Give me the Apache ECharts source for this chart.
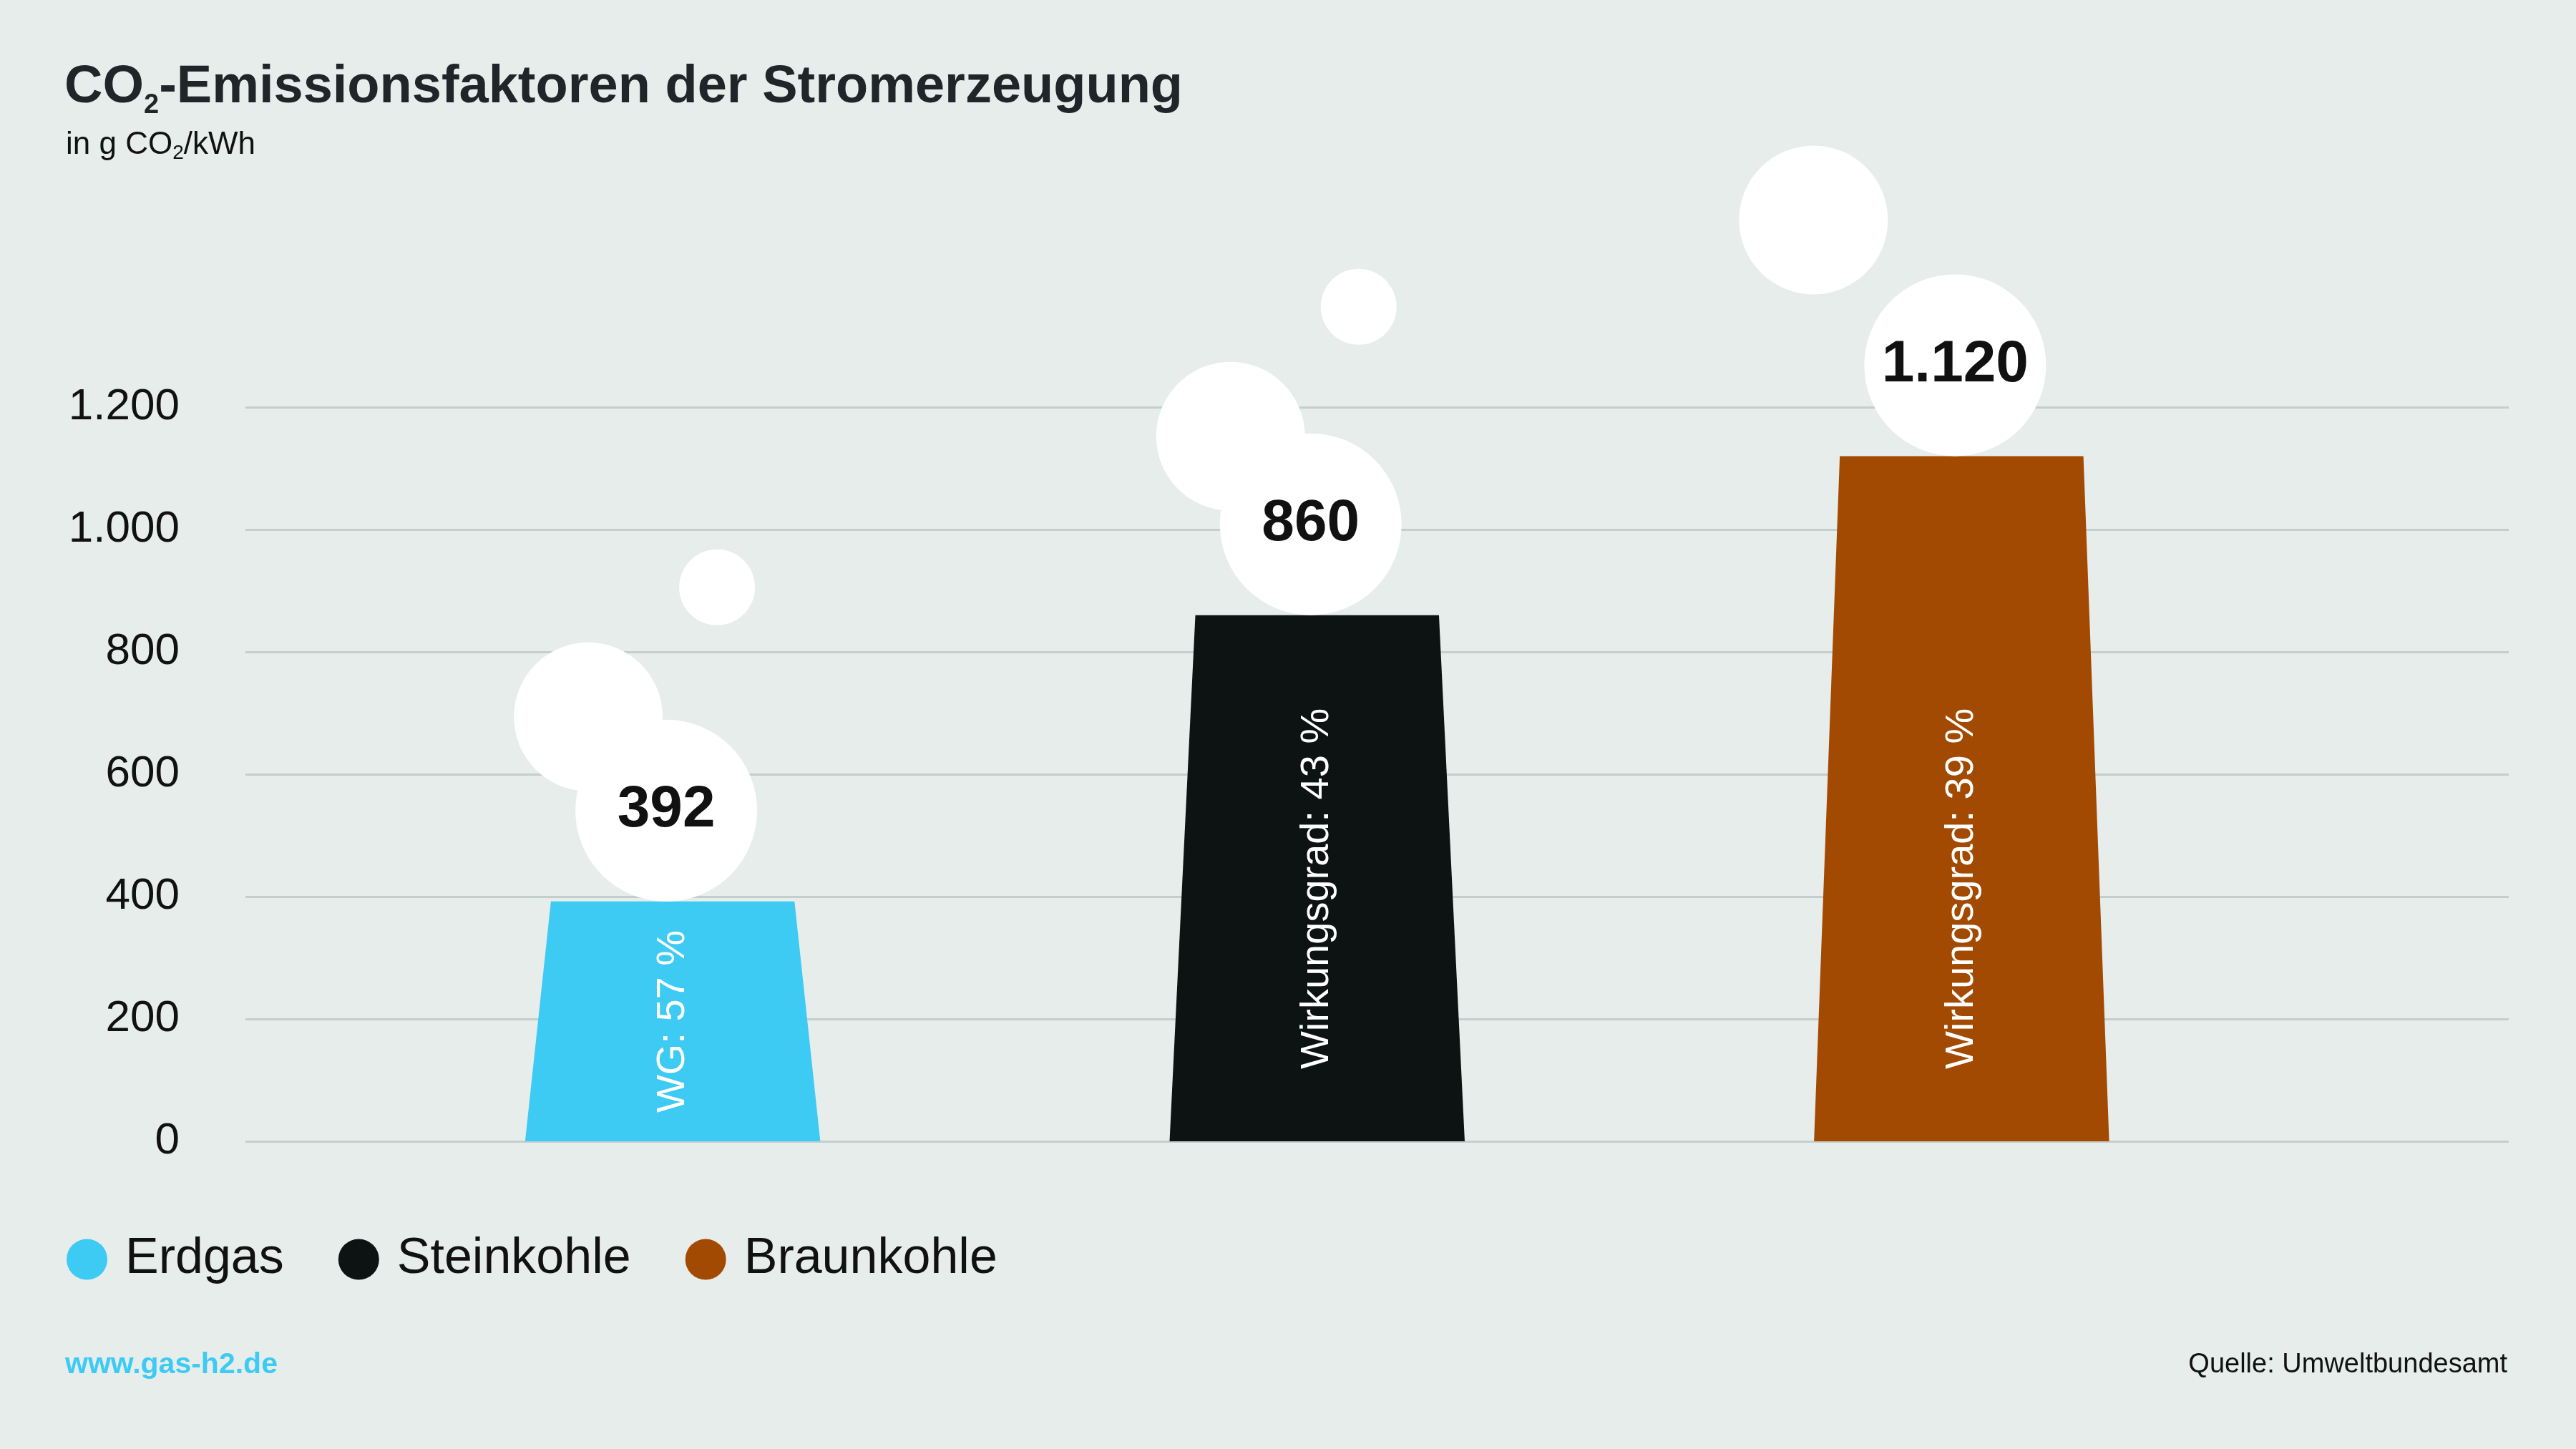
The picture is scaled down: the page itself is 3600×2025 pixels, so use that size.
<!DOCTYPE html>
<html>
<head>
<meta charset="utf-8">
<title>CO2-Emissionsfaktoren der Stromerzeugung</title>
<script src="https://cdn.jsdelivr.net/npm/echarts@6/dist/echarts.min.js"></script>
<style>
  html, body { margin: 0; padding: 0; background: #e7edeb; }
  #main { width: 3600px; height: 2025px; }
</style>
</head>
<body>
<div id="main"></div>
<script>
const categories = ['Erdgas', 'Steinkohle', 'Braunkohle'];
const emissions = [392, 860, 1120];
const efficiencyLabels = ['WG: 57 %', 'Wirkungsgrad: 43 %', 'Wirkungsgrad: 39 %'];
const yTicks = [0, 200, 400, 600, 800, 1000, 1200];
const colors = ['#3dcaf3', '#0d1213', '#a34a02'];

const FONT = '"Liberation Sans", Arial, sans-serif';

// smoke puffs over each chimney: [dx, dy, r] in px from the top centre, last one carries the value
const puffs = [
  [[-118, -258, 104], [62, -439, 53], [-9, -127, 127]],
  [[-121, -250, 104], [58, -431, 53], [-9, -127, 127]],
  [[-207, -330, 104], [-9, -127, 127]]
];
// rotated label never sits higher than this value
const labelFloor = 413;

function fmt(v) {
  return String(v).replace(/\B(?=(\d{3})+(?!\d))/g, '.');
}

function chimney(idx) {
  return function (params, api) {
    const x = api.value(0);
    const v = api.value(1);
    const top = api.coord([x, v]);
    const base = api.coord([x, 0]);
    const unit = api.size([1, 0])[0];
    const ht = unit * 0.189;
    const hb = unit * 0.229;
    const children = [{
      type: 'polygon',
      shape: {
        points: [
          [top[0] - ht, top[1]], [top[0] + ht, top[1]],
          [base[0] + hb, base[1]], [base[0] - hb, base[1]]
        ]
      },
      style: { fill: api.visual('color') }
    }];
    puffs[idx].forEach(function (p) {
      children.push({
        type: 'circle',
        shape: { cx: top[0] + p[0], cy: top[1] + p[1], r: p[2] },
        style: { fill: '#ffffff' }
      });
    });
    const big = puffs[idx][puffs[idx].length - 1];
    children.push({
      type: 'text',
      x: top[0] + big[0],
      y: top[1] + big[1],
      style: {
        text: fmt(v), fill: '#111111', fontFamily: FONT, fontWeight: 'bold', fontSize: 82,
        align: 'center', verticalAlign: 'middle'
      }
    });
    const ly = Math.max((top[1] + base[1]) / 2, api.coord([x, labelFloor])[1]);
    children.push({
      type: 'text',
      x: top[0],
      y: ly,
      rotation: Math.PI / 2,
      style: {
        text: efficiencyLabels[idx], fill: '#ffffff', fontFamily: FONT, fontSize: 56,
        align: 'center', verticalAlign: 'middle'
      }
    });
    return { type: 'group', children: children };
  };
}

const chart = echarts.init(document.getElementById('main'));

const option = {
  animation: false,
  backgroundColor: '#e7edeb',
  title: [
    {
      text: '{b|CO}{s|2}{b|-Emissionsfaktoren der Stromerzeugung}',
      left: 90, top: 78, padding: 0,
      textStyle: {
        rich: {
          b: { fontFamily: FONT, fontWeight: 'bold', fontSize: 74, lineHeight: 90, color: '#1f2528' },
          s: { fontFamily: FONT, fontWeight: 'bold', fontSize: 38, lineHeight: 38, color: '#1f2528', padding: [49, 0, 0, 0] }
        }
      }
    },
    {
      text: '{r|in g CO}{s|2}{r|/kWh}',
      left: 92, top: 175, padding: 0,
      textStyle: {
        fontWeight: 'normal',
        rich: {
          r: { fontFamily: FONT, fontWeight: 'normal', fontSize: 44, lineHeight: 56, color: '#111111' },
          s: { fontFamily: FONT, fontWeight: 'normal', fontSize: 28, lineHeight: 28, color: '#111111', padding: [22, 0, 0, 0] }
        }
      }
    },
    {
      text: 'www.gas-h2.de',
      left: 91, top: 1883, padding: 0,
      textStyle: { fontFamily: FONT, fontWeight: 'bold', fontSize: 41, lineHeight: 50, color: '#3dcaf3' }
    },
    {
      text: 'Quelle: Umweltbundesamt',
      right: 96, top: 1883, padding: 0,
      textStyle: { fontFamily: FONT, fontWeight: 'normal', fontSize: 38, lineHeight: 50, color: '#111111' }
    }
  ],
  legend: {
    data: categories,
    left: 93, top: 1725, padding: 0,
    icon: 'circle', itemWidth: 57, itemHeight: 57, itemGap: 76,
    selectedMode: false,
    textStyle: { fontFamily: FONT, fontSize: 70, lineHeight: 57, color: '#111111', padding: [0, 0, 0, 20] }
  },
  grid: { left: 343, right: 94, top: 569, bottom: 430, containLabel: false },
  xAxis: { type: 'value', min: -0.663, max: 2.849, show: false },
  yAxis: {
    type: 'value',
    min: yTicks[0], max: yTicks[yTicks.length - 1], interval: yTicks[1] - yTicks[0],
    axisLine: { show: false },
    axisTick: { show: false },
    axisLabel: { fontFamily: FONT, fontSize: 62, color: '#111111', margin: 92, formatter: fmt },
    splitLine: { lineStyle: { color: '#c4cecd', width: 3 } }
  },
  series: categories.map(function (name, i) {
    return {
      name: name,
      type: 'custom',
      clip: false,
      itemStyle: { color: colors[i] },
      encode: { x: 0, y: 1 },
      data: [[i, emissions[i]]],
      renderItem: chimney(i)
    };
  })
};

chart.setOption(option);
</script>
</body>
</html>
